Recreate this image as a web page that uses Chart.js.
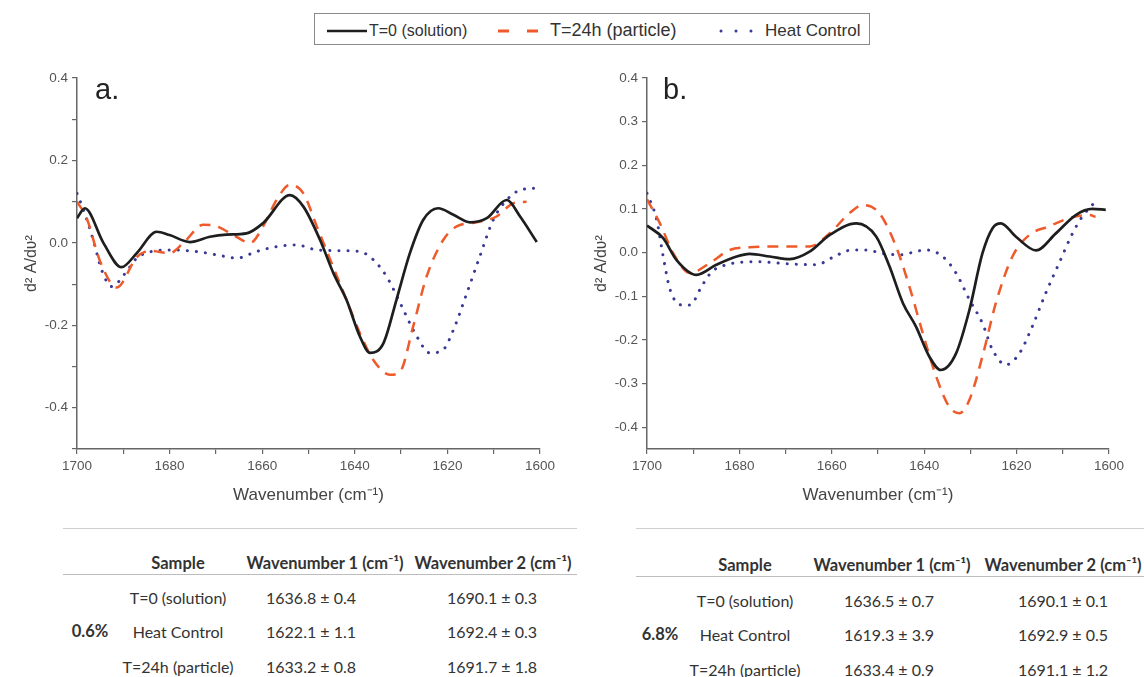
<!DOCTYPE html>
<html>
<head>
<meta charset="utf-8">
<script src="https://cdn.jsdelivr.net/npm/chart.js@4"></script>
<style>
  body { margin: 0; width: 1144px; height: 677px; background: #fff; position: relative; overflow: hidden; font-family: "Liberation Sans", Arial, sans-serif; }
  .abs { position: absolute; }
  #legend { left: 314px; top: 13px; width: 554px; height: 30px; border: 1.5px solid #8a8a8a; }
  .lg { position: absolute; top: 2px; height: 29px; line-height: 29px; color: #333; white-space: nowrap; }
  .panel { font-size: 29px; color: #222; }
  .tbl { font-family: Lato, "Open Sans", sans-serif; font-size: 16px; color: #333; }
  .cell { position: absolute; transform: translate(-50%, -50%); white-space: nowrap; }
  .rule { position: absolute; height: 0; }
</style>
</head>
<body>
<div id="legend" class="abs">
  <svg class="abs" style="left:0;top:0" width="554" height="30">
    <line x1="12" y1="17" x2="52" y2="17" stroke="#1e1e1e" stroke-width="2.5"/>
    <line x1="183" y1="17" x2="228" y2="17" stroke="#ee5a2a" stroke-width="3" stroke-dasharray="11 18"/>
    <line x1="406" y1="17" x2="437" y2="17" stroke="#3a3a96" stroke-width="3" stroke-dasharray="0 15" stroke-linecap="round"/>
  </svg>
  <div class="lg" style="left:54px;font-size:16px">T=0 (solution)</div>
  <div class="lg" style="left:235px;font-size:18px">T=24h (particle)</div>
  <div class="lg" style="left:450px;font-size:17px">Heat Control</div>
</div>

<canvas id="chartA" class="abs" style="left:0;top:60px" width="575" height="450"></canvas>
<canvas id="chartB" class="abs" style="left:570px;top:60px" width="574" height="450"></canvas>
<div class="abs panel" style="left:95px;top:73px">a.</div>
<div class="abs panel" style="left:663px;top:73px">b.</div>

<div id="tables" class="tbl"></div>

<script>
// ---- panel a (0.6%) ----
const wnA_t0 = [1700, 1698.3, 1694.3, 1690.4, 1687.1, 1682.8, 1680, 1675.6, 1671.3, 1667.7, 1663.4, 1659.8, 1654, 1651.1, 1647.5, 1644.6, 1641.8, 1638.9, 1636.7, 1633.8, 1631, 1628.1, 1625.2, 1622, 1618.7, 1615.1, 1611.5, 1607.2, 1604.3, 1600.7];
const valA_t0 = [0.06, 0.084, 0, -0.059, -0.025, 0.027, 0.019, 0.002, 0.015, 0.02, 0.023, 0.048, 0.116, 0.088, 0.007, -0.074, -0.138, -0.227, -0.267, -0.243, -0.138, -0.025, 0.056, 0.084, 0.068, 0.05, 0.06, 0.104, 0.064, 0.002];
const wnA_24 = [1700, 1697.9, 1695, 1691.4, 1687.1, 1684.2, 1680, 1677, 1672.7, 1669.8, 1666.2, 1662.6, 1659.8, 1656.9, 1654, 1651.1, 1648.2, 1645.3, 1641.8, 1638.9, 1636, 1632.4, 1630.2, 1627.4, 1624.5, 1620.9, 1618, 1613.7, 1609.4, 1605.8, 1602.9];
const valA_24 = [0.1, 0.06, -0.045, -0.108, -0.035, -0.019, -0.025, 0, 0.044, 0.04, 0.019, 0, 0.04, 0.104, 0.141, 0.12, 0.04, -0.041, -0.138, -0.219, -0.284, -0.32, -0.312, -0.203, -0.082, 0.007, 0.04, 0.05, 0.064, 0.096, 0.1];
const wnA_hc = [1700, 1698.6, 1696.5, 1694.7, 1692.5, 1689.6, 1687.1, 1683.9, 1680, 1674.2, 1669.8, 1665.5, 1661.2, 1656.9, 1652.6, 1648.2, 1642.5, 1638.9, 1636, 1633.1, 1630.2, 1626.6, 1623.8, 1620.9, 1618.7, 1615.8, 1613, 1610.1, 1607.2, 1604.3, 1600.4];
const valA_hc = [0.12, 0.08, 0.007, -0.065, -0.106, -0.074, -0.037, -0.021, -0.017, -0.021, -0.029, -0.037, -0.021, -0.009, -0.005, -0.017, -0.019, -0.021, -0.041, -0.082, -0.146, -0.227, -0.267, -0.259, -0.211, -0.122, -0.033, 0.056, 0.104, 0.128, 0.133];

// ---- panel b (6.8%) ----
const wnB_t0 = [1700, 1696.5, 1693.6, 1689.3, 1685, 1680.6, 1677.8, 1673.4, 1669.1, 1664.8, 1660.5, 1654.7, 1650.4, 1647.5, 1644.6, 1641.8, 1638.9, 1636.4, 1633.1, 1630.2, 1627.4, 1625.2, 1623.4, 1620.2, 1615.8, 1611.5, 1607.2, 1603.6, 1600.7];
const valB_t0 = [0.062, 0.033, -0.017, -0.051, -0.028, -0.009, -0.003, -0.009, -0.015, 0.002, 0.04, 0.067, 0.037, -0.032, -0.116, -0.169, -0.238, -0.269, -0.231, -0.131, -0.002, 0.056, 0.067, 0.037, 0.005, 0.044, 0.086, 0.1, 0.098];
const wnB_24 = [1700, 1697.2, 1694.3, 1690.7, 1686.4, 1682.1, 1677.8, 1670.6, 1664.8, 1660.5, 1656.2, 1653.3, 1649.7, 1646.1, 1643.2, 1640.3, 1637.4, 1634.6, 1632.4, 1630.2, 1627.4, 1624.5, 1620.9, 1617.3, 1613, 1608.6, 1604.3, 1602.9];
const valB_24 = [0.122, 0.067, -0.002, -0.047, -0.024, 0.006, 0.012, 0.014, 0.014, 0.044, 0.09, 0.109, 0.09, 0.014, -0.078, -0.185, -0.284, -0.353, -0.368, -0.337, -0.238, -0.116, -0.009, 0.04, 0.06, 0.079, 0.086, 0.082];
const wnB_hc = [1700, 1697.9, 1696.5, 1695, 1692.5, 1690.7, 1688.2, 1686, 1682.8, 1676.3, 1669.1, 1663.4, 1659.8, 1656.2, 1652.6, 1649, 1645.4, 1639.6, 1636, 1633.1, 1630.2, 1627.4, 1625.2, 1622.3, 1619.4, 1616.6, 1613.7, 1610.8, 1607.9, 1605.8, 1603.3];
const valB_hc = [0.136, 0.075, -0.009, -0.085, -0.12, -0.12, -0.078, -0.044, -0.028, -0.021, -0.026, -0.028, -0.011, 0.005, 0.006, -0.002, -0.005, 0.006, -0.009, -0.047, -0.108, -0.162, -0.223, -0.257, -0.231, -0.169, -0.093, -0.024, 0.044, 0.082, 0.113];

const seriesNames = ['T=0 (solution)', 'T=24h (particle)', 'Heat Control'];
const xTicks = [1700, 1680, 1660, 1640, 1620, 1600];

// ---- tables ----
const tableHeader = ['Sample', 'Wavenumber 1 (cm\u207B\u00B9)', 'Wavenumber 2 (cm\u207B\u00B9)'];
const samples = ['T=0 (solution)', 'Heat Control', 'T=24h (particle)'];
const wn1A = ['1636.8 \u00B1 0.4', '1622.1 \u00B1 1.1', '1633.2 \u00B1 0.8'];
const wn2A = ['1690.1 \u00B1 0.3', '1692.4 \u00B1 0.3', '1691.7 \u00B1 1.8'];
const wn1B = ['1636.5 \u00B1 0.7', '1619.3 \u00B1 3.9', '1633.4 \u00B1 0.9'];
const wn2B = ['1690.1 \u00B1 0.1', '1692.9 \u00B1 0.5', '1691.1 \u00B1 1.2'];

Chart.defaults.font.family = '"Liberation Sans", Arial, sans-serif';

function pts(xs, ys) { return xs.map((x, i) => ({ x: x, y: ys[i] })); }

function makeChart(id, data, yMin, yLabel) {
  const ds = [
    { label: seriesNames[0], data: pts(data[0], data[1]), borderColor: '#1e1e1e', borderWidth: 2.7 },
    { label: seriesNames[1], data: pts(data[2], data[3]), borderColor: '#ee5a2a', borderWidth: 2.5, borderDash: [11, 8] },
    { label: seriesNames[2], data: pts(data[4], data[5]), borderColor: '#3a3a96', borderWidth: 3, borderDash: [0.1, 9], borderCapStyle: 'round' }
  ];
  ds.forEach(d => { d.pointRadius = 0; d.fill = false; d.cubicInterpolationMode = 'monotone'; });
  return new Chart(document.getElementById(id), {
    type: 'line',
    data: { datasets: ds },
    options: {
      responsive: false,
      animation: false,
      layout: { padding: { top: 18, right: 35, left: 22, bottom: 0 } },
      plugins: { legend: { display: false }, tooltip: { enabled: false } },
      scales: {
        x: {
          type: 'linear', reverse: true, min: 1600, max: 1700,
          afterFit: s => { s.height = 61; },
          ticks: { stepSize: 10, color: '#555', font: { size: 13.5 }, padding: 4,
            maxRotation: 0, autoSkip: false,
            callback: v => xTicks.includes(v) ? String(v) : '' },
          grid: { drawOnChartArea: false, tickLength: 5, color: '#666', lineWidth: 1.2 },
          border: { color: '#666', width: 1.5 },
          title: { display: true, text: 'Wavenumber (cm\u207B\u00B9)', color: '#444', font: { size: 17 }, padding: { top: 2, bottom: 4 } }
        },
        y: {
          min: yMin, max: 0.4,
          afterFit: s => { s.width = 55; },
          afterBuildTicks: s => {
            const t = [];
            for (let k = 4; k >= -5; k--) { const v = k / 10; if (v >= yMin - 1e-9) t.push({ value: v }); }
            s.ticks = t;
          },
          ticks: { color: '#555', font: { size: 13.5 }, padding: 4,
            callback: v => yLabel(v) ? v.toFixed(1) : '' },
          grid: { drawOnChartArea: false, tickLength: 5, color: '#666', lineWidth: 1.2 },
          border: { color: '#666', width: 1.5 },
          title: { display: true, text: 'd\u00B2 A/d\u028B\u00B2', color: '#444', font: { size: 16 }, padding: { top: 0, bottom: 0 } }
        }
      }
    }
  });
}

makeChart('chartA', [wnA_t0, valA_t0, wnA_24, valA_24, wnA_hc, valA_hc], -0.5,
  v => Math.abs(Math.round(v * 10)) % 2 === 0 && v > -0.45);
makeChart('chartB', [wnB_t0, valB_t0, wnB_24, valB_24, wnB_hc, valB_hc], -0.45,
  v => Math.abs(v * 10 - Math.round(v * 10)) < 1e-6);

function buildTable(conf) {
  const box = document.getElementById('tables');
  const add = (html, x, y, bold) => {
    const d = document.createElement('div');
    d.className = 'cell';
    d.style.left = x + 'px'; d.style.top = y + 'px';
    if (bold) { d.style.fontWeight = 'bold'; d.style.fontSize = '16.5px'; }
    d.innerHTML = html;
    box.appendChild(d);
  };
  const rule = (x1, x2, y, c) => {
    const d = document.createElement('div');
    d.className = 'rule';
    d.style.left = x1 + 'px'; d.style.width = (x2 - x1) + 'px'; d.style.top = y + 'px';
    d.style.borderTop = '1px solid ' + c;
    box.appendChild(d);
  };
  rule(conf.x1, conf.x2, 528, '#cfcfcf');
  rule(conf.x1, conf.x2, conf.hy + 11, '#bdbdbd');
  tableHeader.forEach((h, i) => add(h, conf.hx[i], conf.hy, true));
  samples.forEach((s, r) => {
    const y = conf.rows[r];
    add(s, conf.cx[0], y);
    add(conf.wn1[r], conf.cx[1], y);
    add(conf.wn2[r], conf.cx[2], y);
  });
  add(conf.group, conf.gx, conf.rows[1], true);
}

buildTable({ x1: 63, x2: 577, hy: 563, rows: [597, 631, 666], hx: [178, 325, 493], cx: [178, 311, 492],
  wn1: wn1A, wn2: wn2A, group: '0.6%', gx: 90 });
buildTable({ x1: 636, x2: 1144, hy: 565, rows: [600, 634, 669], hx: [745, 892, 1063], cx: [745, 889, 1063],
  wn1: wn1B, wn2: wn2B, group: '6.8%', gx: 660 });
</script>
</body>
</html>
